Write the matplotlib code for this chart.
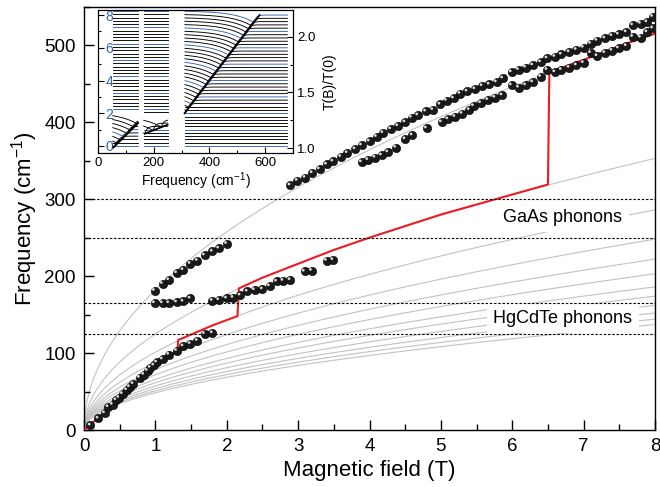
import matplotlib
matplotlib.use("Agg")
import matplotlib.pyplot as plt
import matplotlib.transforms as mtransforms
import numpy as np

plt.rcParams["font.family"] = ["Liberation Sans", "DejaVu Sans"]
plt.rcParams["mathtext.fontset"] = "custom"
plt.rcParams["mathtext.rm"] = "Liberation Sans"
plt.rcParams["mathtext.default"] = "regular"

# measured resonances, B in T and frequency in cm^-1
low_b = [0.09, 0.20, 0.29, 0.34, 0.40, 0.45, 0.49, 0.54, 0.60, 0.64, 0.69, 0.78,
         0.84, 0.89, 0.93, 0.98, 1.02, 1.10, 1.19, 1.30, 1.39, 1.49, 1.59, 1.69, 1.80]
low_f = [6, 15, 22, 30, 33, 39, 42, 47, 52, 56, 60, 68,
         72, 77, 81, 84, 88, 92, 98, 103, 109, 112, 116, 125, 126]

mid_b = [0.99, 1.10, 1.19, 1.30, 1.39, 1.49, 1.80, 1.89, 2.00, 2.09, 2.19,
         2.29, 2.39, 2.50, 2.60, 2.70, 2.79, 2.89, 3.09, 3.19, 3.40, 3.49]
mid_f = [165, 165, 165, 166, 167, 171, 168, 169, 171, 172, 175,
         180, 182, 183, 187, 193, 194, 195, 206, 207, 220, 221]

up_b = [0.99, 1.10, 1.19, 1.30, 1.39, 1.49, 1.59, 1.69, 1.80, 1.89, 2.00]
up_f = [181, 190, 195, 204, 208, 216, 220, 227, 232, 236, 242]

hi_b = [2.89, 2.99, 3.10, 3.20, 3.30, 3.40, 3.49, 3.60, 3.69, 3.80, 3.89, 4.00,
        4.10, 4.19, 4.30, 4.40, 4.50, 4.59, 4.68, 4.79, 4.89, 4.99, 5.08, 5.18,
        5.27, 5.37, 5.48, 5.58, 5.68, 5.78, 5.87, 5.99, 6.09, 6.19, 6.29, 6.40,
        6.49, 6.60, 6.69, 6.80, 6.90, 7.00, 7.10, 7.19, 7.30, 7.40, 7.49, 7.60,
        7.69, 7.80, 7.89, 7.97]
hi_f = [318, 324, 328, 334, 339, 345, 349, 355, 360, 365, 370, 375,
        381, 386, 391, 395, 400, 406, 409, 414, 416, 423, 428, 431,
        437, 440, 443, 447, 449, 452, 457, 465, 468, 471, 474, 478,
        483, 485, 488, 491, 494, 497, 502, 506, 509, 512, 514, 517,
        526, 528, 530, 537]

hi2_b = [3.89, 3.98, 4.08, 4.17, 4.26, 4.37, 4.50, 4.60, 4.80, 5.01, 5.10, 5.20,
         5.30, 5.40, 5.46, 5.56, 5.66, 5.76, 5.86, 5.99, 6.09, 6.19, 6.29, 6.40,
         6.49, 6.60, 6.69, 6.80, 6.90, 7.00, 7.10, 7.19, 7.30, 7.40, 7.49, 7.60,
         7.69, 7.80, 7.89, 7.97]
hi2_f = [348, 351, 354, 357, 361, 367, 378, 383, 392, 400, 404, 407,
         411, 416, 421, 425, 429, 432, 435, 448, 445, 448, 452, 459,
         468, 465, 468, 471, 474, 477, 490, 486, 490, 493, 496, 499,
         511, 510, 517, 522]

# calculated transition (red)
red_b = [0.0, 0.3, 0.6, 0.9, 1.31, 1.32, 1.5, 1.8, 2.15, 2.17, 2.5, 3.0, 3.5, 4.0,
         4.5, 5.0, 5.5, 6.0, 6.50, 6.52, 7.0, 7.5, 8.0]
red_f = [0, 24, 50, 76, 104, 117, 124, 136, 148, 184, 198, 216, 234, 250,
         265, 280, 293, 306, 319, 465, 481, 499, 515]

# Landau level transitions (gray), value reached at 8 T
ll_at_8t = [515, 353, 286, 248, 222, 203, 186, 174, 162, 152, 144, 137]

phonons = [125, 165, 250, 300]

# inset: transmission spectra, one per field step
inset_fields = np.round(np.arange(0, 8.01, 0.2), 1)
inset_segments = [(53, 143), (164, 250), (312, 680)]
diag_freq = [[55, 144], [168, 250], [311, 580]]
diag_level = [[-0.1, 1.4], [0.75, 1.3], [2.0, 8.0]]

BLUE = "#3a5fb5"
RED = "#ee1c24"
GRAY = "#c2c2c2"


def spheres(ax, b, f):
    ax.scatter(b, f, s=36, c="#1a1a1a", edgecolors="#000000", linewidths=0.4, zorder=5)
    hl = mtransforms.offset_copy(ax.transData, fig=ax.figure, x=-1.3, y=1.3, units="dots")
    ax.scatter(b, f, s=4, c="#d8d8d8", edgecolors="none", transform=hl, zorder=6)


def trace(freq, field, edge, rise=0.25, dip=0.45):
    left = rise - (rise + dip) * np.exp(-np.clip(edge - freq, 0, None) / 70.0)
    right = -dip * np.exp(-np.clip(freq - edge, 0, None) / 8.0)
    return field + np.where(freq < edge, left, right)


fig = plt.figure(figsize=(6.6, 4.87), dpi=100)
ax = fig.add_axes([0.1273, 0.1170, 0.8651, 0.8692])

b_fine = np.linspace(0, 8, 400)
for v in ll_at_8t:
    ax.plot(b_fine, v * np.sqrt(b_fine / 8), color=GRAY, lw=0.8, zorder=1)

for p in phonons:
    ax.axhline(p, color="k", lw=0.8, ls=(0, (2.2, 1.6)), zorder=4)

ax.plot(red_b, red_f, color=RED, lw=1.5, zorder=3)

for b, f in [(low_b, low_f), (mid_b, mid_f), (up_b, up_f), (hi_b, hi_f), (hi2_b, hi2_f)]:
    spheres(ax, b, f)

box = dict(boxstyle="square,pad=0.35", fc="white", ec="none")
ax.text(6.71, 276, "GaAs phonons", ha="center", va="center", fontsize=13, bbox=box, zorder=3)
ax.text(6.71, 145, "HgCdTe phonons", ha="center", va="center", fontsize=13, bbox=box, zorder=3)

ax.set_xlim(0, 8)
ax.set_ylim(0, 550)
ax.set_xticks(np.arange(0, 9, 1))
ax.set_xticks(np.arange(0, 8.01, 0.5), minor=True)
ax.set_yticks(np.arange(0, 501, 100))
ax.set_yticks(np.arange(0, 551, 50), minor=True)
ax.tick_params(which="both", direction="in", top=False, right=False, width=1.0, labelsize=13.5, pad=6)
ax.tick_params(which="major", length=7)
ax.tick_params(which="minor", length=4)
for s in ax.spines.values():
    s.set_linewidth(1.0)
ax.set_xlabel("Magnetic field (T)", fontsize=16, labelpad=3)
ax.set_ylabel("Frequency (cm$^{-1}$)", fontsize=16, labelpad=3)

# inset
axi = fig.add_axes([0.1485, 0.6858, 0.2954, 0.2937])
axi.set_facecolor("white")
for (f0, f1), dfq, dlv in zip(inset_segments, diag_freq, diag_level):
    freq = np.linspace(f0, f1, 240)
    for field in inset_fields:
        edge = np.interp(field - 0.45, dlv, dfq, left=-1e4, right=1e4)
        color = BLUE if float(field).is_integer() else "black"
        axi.plot(freq, trace(freq, field, edge), color=color, lw=0.65)
    axi.plot(dfq, dlv, color="black", lw=1.3)

axi.set_xlim(0, 700)
axi.set_ylim(-0.43, 8.31)
axi.set_xticks([0, 200, 400, 600])
axi.set_xticks(np.arange(0, 701, 100), minor=True)
axi.set_yticks([0, 2, 4, 6, 8])
axi.set_yticks([1, 3, 5, 7], minor=True)
axi.tick_params(which="both", direction="in", labelsize=9.5, width=0.8)
axi.tick_params(which="major", length=4)
axi.tick_params(which="minor", length=2.5)
axi.tick_params(axis="x", pad=3)
axi.tick_params(axis="y", labelcolor=BLUE, pad=-11, labelsize=10)
axi.set_xlabel("Frequency (cm$^{-1}$)", fontsize=10, labelpad=1)

axr = axi.twinx()
axr.set_ylim(0.955, 2.243)
axr.set_yticks([1.0, 1.5, 2.0])
axr.set_yticks([1.25, 1.75], minor=True)
axr.tick_params(which="both", direction="in", labelsize=9.5, width=0.8, pad=3)
axr.tick_params(which="major", length=4)
axr.tick_params(which="minor", length=2.5)
axr.set_ylabel("T(B)/T(0)", fontsize=10, labelpad=5)

fig.savefig("out.png", dpi=100)
